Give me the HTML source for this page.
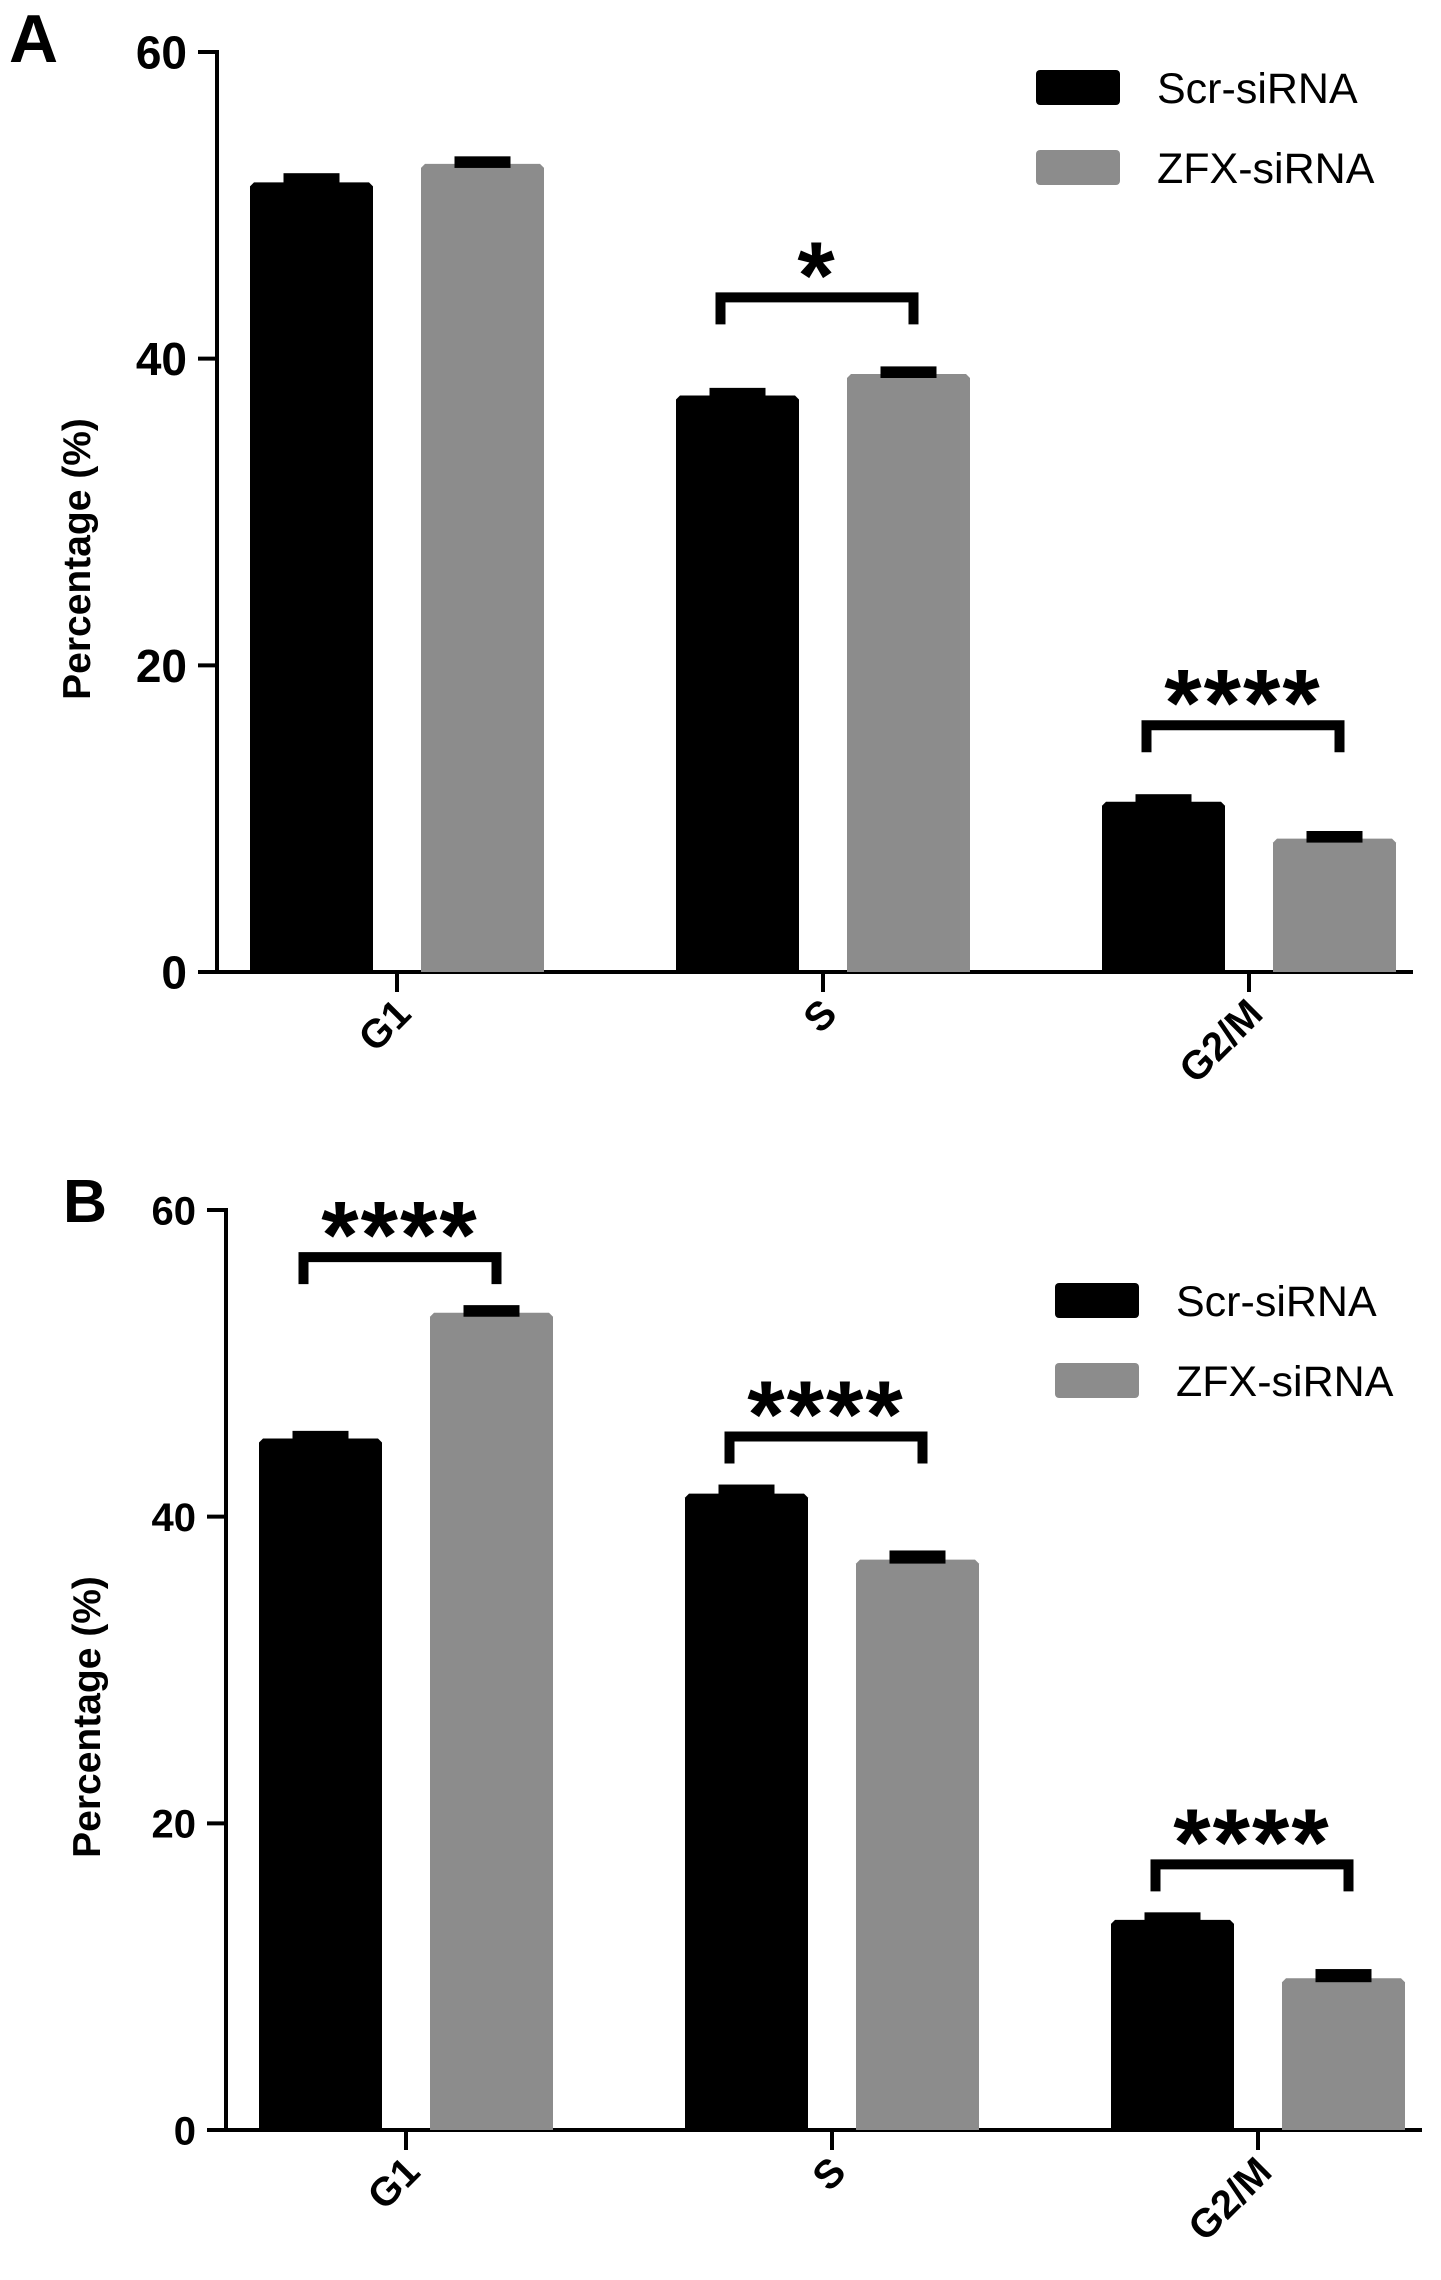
<!DOCTYPE html>
<html><head><meta charset="utf-8"><style>body{margin:0;background:#fff}svg{display:block}</style></head>
<body>
<svg id="chart" width="1441" height="2280" xmlns="http://www.w3.org/2000/svg" font-family="Liberation Sans, Arial, sans-serif"></svg>
<script>
const categories = ["G1", "S", "G2/M"];
const seriesNames = ["Scr-siRNA", "ZFX-siRNA"];
const scrA = [51.5, 37.6, 11.1];
const zfxA = [52.7, 39.0, 8.7];
const errScrA = [0.4, 0.3, 0.3];
const errZfxA = [0.3, 0.3, 0.3];
const scrB = [45.1, 41.5, 13.7];
const zfxB = [53.3, 37.2, 9.9];
const errScrB = [0.3, 0.4, 0.3];
const errZfxB = [0.3, 0.4, 0.4];
const yTicks = [0, 20, 40, 60];
const sigA = ["", "*", "****"];
const sigB = ["****", "****", "****"];

const svg = document.getElementById('chart');
const NS = 'http://www.w3.org/2000/svg';
function mk(tag, attrs, parent) {
  const e = document.createElementNS(NS, tag);
  for (const k in attrs) e.setAttribute(k, attrs[k]);
  (parent || svg).appendChild(e);
  return e;
}
const colors = ["#000000", "#8c8c8c"];

function panel(p) {
  const g = mk('g', {});
  
  
  const y = v => p.y0 - (v / 60) * (p.y0 - p.y60);
  const L = mk('text', {x: p.letterX, y: p.letterY, 'font-size': p.letterSize, 'font-weight': 'bold'}, g);
  L.textContent = p.letter;
  
  
  const ax = mk('line', {x1: p.ax, y1: p.y60 - 2, x2: p.ax, y2: p.y0 + 2, stroke: '#000', 'stroke-width': 4}, g);
  
  
  yTicks.forEach(t => {
    mk('line', {x1: p.ax - 19, y1: y(t), x2: p.ax, y2: y(t), stroke: '#000', 'stroke-width': 4}, g);
    const tx = mk('text', {x: p.ax - 30, y: y(t) + p.tickSize * 0.36, 'font-size': p.tickSize, 'font-weight': 'bold', 'text-anchor': 'end'}, g);
    tx.textContent = t;
    
    
  });
  const yt = mk('text', {x: 0, y: 0, 'font-size': 39, 'font-weight': 'bold', 'text-anchor': 'middle', transform: `translate(${p.titleX},${p.titleY}) rotate(-90)`}, g);
  yt.textContent = 'Percentage (%)';
  
  
  const xa = mk('line', {x1: p.ax - 19, y1: p.y0, x2: p.axEnd, y2: p.y0, stroke: '#000', 'stroke-width': 4}, g);
  
  
  const bw = 123, gap = 48, groupStep = 426;
  categories.forEach((c, i) => {
    const x0 = p.firstBar + i * groupStep;
    const cx = x0 + bw + gap / 2;
    mk('line', {x1: cx, y1: p.y0, x2: cx, y2: p.y0 + 20, stroke: '#000', 'stroke-width': 4}, g);
    const cl = mk('text', {x: 0, y: 0, 'font-size': 40, 'font-weight': 'bold', 'text-anchor': 'end', transform: `translate(${cx + 16},${p.y0 + 44}) rotate(-45)`}, g);
    cl.textContent = c;
    
    
    const vals = [p.scr[i], p.zfx[i]], errs = [p.es[i], p.ez[i]];
    const tops = [];
    vals.forEach((v, j) => {
      const bx = x0 + j * (bw + gap);
      const r = mk('path', {d: `M${bx},${p.y0} V${y(v) + 4} L${bx + 4},${y(v)} H${bx + bw - 4} L${bx + bw},${y(v) + 4} V${p.y0} Z`, fill: colors[j]}, g);
      
      
      const ec = mk('rect', {x: bx + bw / 2 - 28, y: y(v + errs[j]) - 3, width: 56, height: y(v) - y(v + errs[j]) + 7, fill: '#000'}, g);
      
      
      tops.push(y(v + errs[j]));
    });
    if (p.sig[i]) {
      const l = x0 + bw / 2 - 22, rr = x0 + bw + gap + bw / 2 + 10;
      const top = Math.min(...tops) - p.brOff;
      const br = mk('path', {d: `M${l + 5},${top + 32} V${top + 5} H${rr - 5} V${top + 32}`, fill: 'none', stroke: '#000', 'stroke-width': 10}, g);
      
      
      const st = mk('text', {x: (l + rr) / 2, y: top + 16, 'font-size': 96, 'font-weight': 'bold', 'text-anchor': 'middle', 'letter-spacing': 2}, g);
      st.textContent = p.sig[i];
      
      
    }
  });
  seriesNames.forEach((n, j) => {
    const ly = p.legY + j * 80;
    const sw = mk('rect', {x: p.legX, y: ly, width: 84, height: 35, rx: 4, fill: colors[j]}, g);
    
    
    const lt = mk('text', {x: p.legX + 121, y: ly + 33, 'font-size': 43}, g);
    lt.textContent = n;
    
    
  });
}

panel({letter: 'A', letterX: 9, letterY: 62, letterSize: 68, ax: 217, axEnd: 1413, y0: 972, y60: 52, firstBar: 250,
  tickSize: 46, titleX: 90, titleY: 559, brOff: 77,
  scr: scrA, zfx: zfxA, es: errScrA, ez: errZfxA, sig: sigA, legX: 1036, legY: 70});
panel({letter: 'B', letterX: 63, letterY: 1222, letterSize: 61, ax: 226, axEnd: 1422, y0: 2130, y60: 1210, firstBar: 259,
  tickSize: 40, titleX: 100, titleY: 1717, brOff: 56,
  scr: scrB, zfx: zfxB, es: errScrB, ez: errZfxB, sig: sigB, legX: 1055, legY: 1283});
</script>
</body></html>
